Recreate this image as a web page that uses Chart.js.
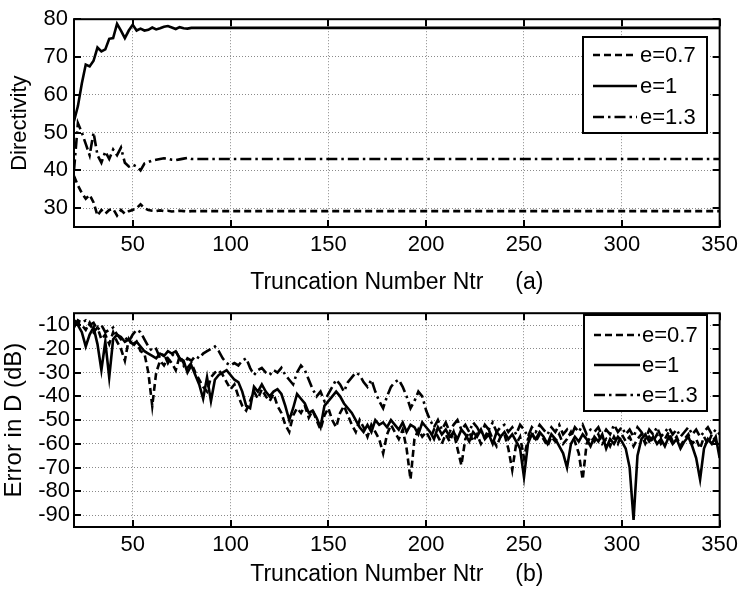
<!DOCTYPE html>
<html><head><meta charset="utf-8">
<script src="https://cdn.jsdelivr.net/npm/chart.js@4/dist/chart.umd.min.js"></script>
<style>
html,body{margin:0;padding:0;background:#fff;}
#wrap{position:relative;width:743px;height:592px;overflow:hidden;}
canvas{position:absolute;left:0;}
</style></head><body>
<div id="wrap">
<canvas id="cTop" width="743" height="296" style="top:0"></canvas>
<canvas id="cBot" width="743" height="296" style="top:296px"></canvas>
</div>
<script>
// ---------- labels ----------
const seriesLabels = ['e=0.7', 'e=1', 'e=1.3'];
const xTitleTop = 'Truncation Number Ntr\u00a0\u00a0\u00a0\u00a0\u00a0(a)';
const xTitleBot = 'Truncation Number Ntr\u00a0\u00a0\u00a0\u00a0\u00a0(b)';
const yTitleTop = 'Directivity';
const yTitleBot = 'Error in D (dB)';
const xTickValues = [50, 100, 150, 200, 250, 300, 350];
const topYTicks = [30, 40, 50, 60, 70, 80];
const botYTicks = [-10, -20, -30, -40, -50, -60, -70, -80, -90];

// ---------- panel (a): directivity ----------
const topNtr = [20,22,24,26,28,30,32,34,36,38,40,42,44,46,48,50,52,54,56,58,60,62,64,66,68,70,72,74,76,78,80,100,350];
const topE07 = [38.5,36,34,32.5,33.5,31.5,28,29.5,28.5,29.5,29.8,28,29.5,28.5,29.2,29.5,30,31,30,29.5,29.3,29.2,29.4,29.2,29.3,29.1,29.2,29.3,29.2,29.1,29.2,29.2,29.2];
const topE1  = [53,57,63,68,67.5,69,72.5,71.5,72,74.8,75,78.8,77,75,77,78.5,77,77.5,77,77.2,77.8,77.3,77.6,78,78.2,77.8,77.4,77.9,77.6,77.5,77.7,77.7,77.7];
const topE13 = [40,52.5,50,47,44,50,44,42,45,43,45.5,44,46,42,41,41.5,41,40,41.8,42.2,42.6,42.8,43,43.2,43.1,42.8,42.7,42.9,43.1,43.3,43,43,43];

// ---------- panel (b): error in D (dB) ----------
const botNtr = [20,22,24,26,28,30,32,34,36,38,40,42,44,46,48,50,52,54,56,58,
60,62,64,66,68,70,72,74,76,78,80,82,84,86,88,90,92,94,96,98,
100,102,104,106,108,110,112,114,116,118,120,122,124,126,128,130,132,134,136,138,
140,142,144,146,148,150,152,154,156,158,160,162,164,166,168,170,172,174,176,178,
180,182,184,186,188,190,192,194,196,198,200,202,204,206,208,210,212,214,216,218,
220,222,224,226,228,230,232,234,236,238,240,242,244,246,248,250,252,254,256,258,
260,262,264,266,268,270,272,274,276,278,280,282,284,286,288,290,292,294,296,298,
300,302,304,306,308,310,312,314,316,318,320,322,324,326,328,330,332,334,336,338,
340,342,344,346,348,350];
const botE07 = [-8,-9,-10,-12,-9,-13,-11,-16,-14,-18,-13,-17,-20,-25,-16,-19,-17,-21,-22,-30,
-44,-30,-25,-27,-24,-26,-29,-23,-26,-28,-26,-30,-33,-36,-38,-32,-30,-29,-31,-34,
-37,-35,-40,-44,-46,-42,-38,-41,-37,-40,-42,-39,-44,-47,-52,-55,-48,-45,-47,-44,
-49,-46,-50,-54,-48,-45,-50,-53,-47,-44,-48,-52,-55,-50,-53,-57,-52,-55,-58,-64,
-56,-52,-55,-58,-54,-62,-75,-58,-54,-57,-55,-58,-54,-57,-60,-56,-59,-55,-62,-69,
-58,-55,-59,-56,-60,-57,-54,-58,-61,-57,-56,-62,-71,-60,-57,-66,-58,-55,-59,-56,
-58,-61,-57,-59,-56,-60,-58,-55,-59,-64,-75,-60,-57,-59,-56,-60,-58,-61,-57,-60,
-56,-59,-57,-61,-58,-56,-60,-57,-59,-56,-60,-58,-55,-59,-57,-61,-58,-56,-60,-58,
-62,-57,-60,-56,-59,-61];
const botE1 = [-9,-10,-13,-19,-14,-11,-18,-29,-17,-32,-16,-14,-15,-17,-16,-18,-17,-19,-21,-22,
-23,-24,-22,-23,-21,-22,-21,-24,-25,-30,-27,-31,-35,-41,-32,-42,-33,-31,-30,-29,
-31,-33,-34,-38,-44,-45,-36,-38,-35,-38,-40,-38,-37,-39,-44,-50,-45,-39,-41,-43,
-47,-46,-49,-53,-44,-42,-40,-38,-40,-43,-45,-47,-50,-53,-55,-52,-55,-50,-52,-51,
-53,-50,-52,-54,-51,-55,-52,-53,-56,-51,-53,-55,-58,-53,-56,-54,-57,-55,-58,-54,
-56,-59,-55,-57,-54,-58,-56,-60,-55,-57,-55,-58,-56,-59,-62,-74,-60,-56,-58,-55,
-57,-60,-56,-58,-61,-64,-70,-60,-57,-59,-56,-58,-61,-57,-59,-56,-62,-58,-60,-57,
-59,-62,-70,-92,-65,-58,-56,-59,-57,-60,-58,-61,-57,-60,-58,-62,-59,-57,-61,-66,
-75,-62,-58,-60,-57,-66];
const botE13 = [-11,-8,-9,-8,-10,-9,-12,-10,-13,-12,-11,-14,-16,-15,-17,-14,-12,-13,-16,-19,
-21,-20,-24,-22,-26,-23,-21,-24,-27,-24,-25,-23,-24,-22,-21,-20,-19,-21,-24,-26,
-27,-26,-27,-25,-24,-28,-31,-29,-28,-30,-31,-29,-30,-28,-31,-33,-35,-30,-27,-29,
-33,-37,-40,-38,-42,-39,-36,-33,-35,-38,-34,-32,-30,-31,-34,-36,-33,-38,-42,-45,
-40,-36,-34,-33,-36,-40,-45,-42,-38,-40,-46,-50,-53,-50,-54,-51,-55,-52,-50,-54,
-52,-55,-51,-53,-56,-52,-54,-51,-55,-53,-52,-55,-53,-56,-52,-54,-57,-53,-55,-52,
-54,-56,-53,-55,-52,-56,-54,-57,-53,-55,-52,-56,-54,-55,-53,-57,-54,-56,-52,-55,
-53,-56,-54,-57,-53,-55,-58,-54,-56,-53,-57,-55,-53,-56,-54,-57,-55,-53,-56,-54,
-57,-55,-53,-56,-54,-56];

// ---------- helpers ----------
const FONT = "'Liberation Sans', Arial, Helvetica, sans-serif";
Chart.defaults.font.family = FONT;
Chart.defaults.color = '#000';

const lineStyles = [
  { dash: [7, 4] },         // e=0.7 dashed
  { dash: [] },             // e=1 solid
  { dash: [11, 4, 2.5, 4] } // e=1.3 dash-dot
];
const LINE_W = 2.6;

function pts(xs, ys) { return xs.map((x, i) => ({ x: x, y: ys[i] })); }

function makeDatasets(xs, arrays) {
  return arrays.map((arr, i) => ({
    label: seriesLabels[i],
    data: pts(xs, arr),
    borderColor: '#000',
    borderWidth: LINE_W,
    borderDash: lineStyles[i].dash,
    pointRadius: 0,
    tension: 0,
    fill: false
  }));
}

const framePlugin = {
  id: 'frame',
  afterDraw(chart, args, opts) {
    const { ctx, chartArea: a, scales } = chart;
    const x = scales.x, y = scales.y;
    ctx.save();
    ctx.strokeStyle = '#000';
    ctx.setLineDash([]);
    ctx.lineWidth = 2;
    ctx.strokeRect(a.left, a.top, a.right - a.left, a.bottom - a.top);
    const tl = 7;
    ctx.beginPath();
    x.ticks.forEach(t => {
      const px = Math.round(x.getPixelForValue(t.value));
      ctx.moveTo(px, a.bottom); ctx.lineTo(px, a.bottom - tl);
      ctx.moveTo(px, a.top); ctx.lineTo(px, a.top + tl);
    });
    y.ticks.forEach(t => {
      const py = Math.round(y.getPixelForValue(t.value));
      ctx.moveTo(a.left, py); ctx.lineTo(a.left + tl, py);
      ctx.moveTo(a.right, py); ctx.lineTo(a.right - tl, py);
    });
    ctx.stroke();

    // legend box (inside plot, upper right)
    const L = opts.legend;
    ctx.fillStyle = '#fff';
    ctx.fillRect(L.x, L.y, L.w, L.h);
    ctx.lineWidth = 2;
    ctx.strokeRect(L.x, L.y, L.w, L.h);
    ctx.font = L.fontSize + 'px ' + FONT;
    ctx.fillStyle = '#000';
    ctx.textBaseline = 'middle';
    ctx.textAlign = 'left';
    chart.data.datasets.forEach((ds, i) => {
      const cy = L.y + L.rowTop + i * L.rowGap;
      ctx.lineWidth = LINE_W;
      ctx.setLineDash(ds.borderDash || []);
      ctx.beginPath();
      ctx.moveTo(L.x + L.sampleX0, cy);
      ctx.lineTo(L.x + L.sampleX1, cy);
      ctx.stroke();
      ctx.setLineDash([]);
      ctx.fillText(ds.label, L.x + L.textX, cy + 1);
    });
    ctx.restore();
  }
};

function makeChart(canvasId, xs, arrays, cfg) {
  return new Chart(document.getElementById(canvasId), {
    type: 'line',
    data: { datasets: makeDatasets(xs, arrays) },
    plugins: [framePlugin],
    options: {
      responsive: false,
      devicePixelRatio: 1,
      animation: false,
      layout: { padding: { left: 0, right: 21, top: cfg.padTop, bottom: 0 } },
      plugins: {
        legend: { display: false },
        tooltip: { enabled: false },
        frame: { legend: cfg.legend }
      },
      scales: {
        x: {
          type: 'linear',
          min: 20, max: 350,
          afterBuildTicks: s => { s.ticks = xTickValues.map(v => ({ value: v })); },
          afterFit: s => { s.height = cfg.xAxisH; },
          ticks: { font: { size: 22 }, padding: 5, maxRotation: 0, autoSkip: false },
          grid: { color: '#8a8a8a', lineWidth: 1, drawTicks: false },
          border: { display: false, dash: [1, 2] },
          title: { display: true, text: cfg.xTitle, font: { size: 23 }, padding: { top: 0, bottom: cfg.xTitlePad } }
        },
        y: {
          type: 'linear',
          min: cfg.yMin, max: cfg.yMax,
          afterBuildTicks: s => { s.ticks = cfg.yTicks.map(v => ({ value: v })); },
          afterFit: s => { s.width = 74; },
          ticks: { font: { size: 22 }, padding: cfg.yTickPad, autoSkip: false },
          grid: { color: '#8a8a8a', lineWidth: 1, drawTicks: false },
          border: { display: false, dash: [1, 2] },
          title: { display: true, text: cfg.yTitle, font: { size: cfg.yTitleSize }, padding: { top: cfg.yTitlePad, bottom: 0 } }
        }
      }
    }
  });
}

makeChart('cTop', topNtr, [topE07, topE1, topE13], {
  padTop: 15, xAxisH: 69, xTitle: xTitleTop, xTitlePad: 0,
  yMin: 25, yMax: 80, yTicks: topYTicks, yTickPad: 6,
  yTitle: yTitleTop, yTitleSize: 22, yTitlePad: 7,
  legend: { x: 583, y: 37, w: 124, h: 96, rowTop: 18, rowGap: 31, sampleX0: 10, sampleX1: 54, textX: 57, fontSize: 22 }
});

makeChart('cBot', botNtr, [botE07, botE1, botE13], {
  padTop: 14, xAxisH: 65, xTitle: xTitleBot, xTitlePad: 4,
  yMin: -95, yMax: -5, yTicks: botYTicks, yTickPad: 4,
  yTitle: yTitleBot, yTitleSize: 24, yTitlePad: 0,
  legend: { x: 584, y: 19, w: 123, h: 96, rowTop: 20, rowGap: 30, sampleX0: 10, sampleX1: 56, textX: 58, fontSize: 22 }
});
</script>
</body></html>
